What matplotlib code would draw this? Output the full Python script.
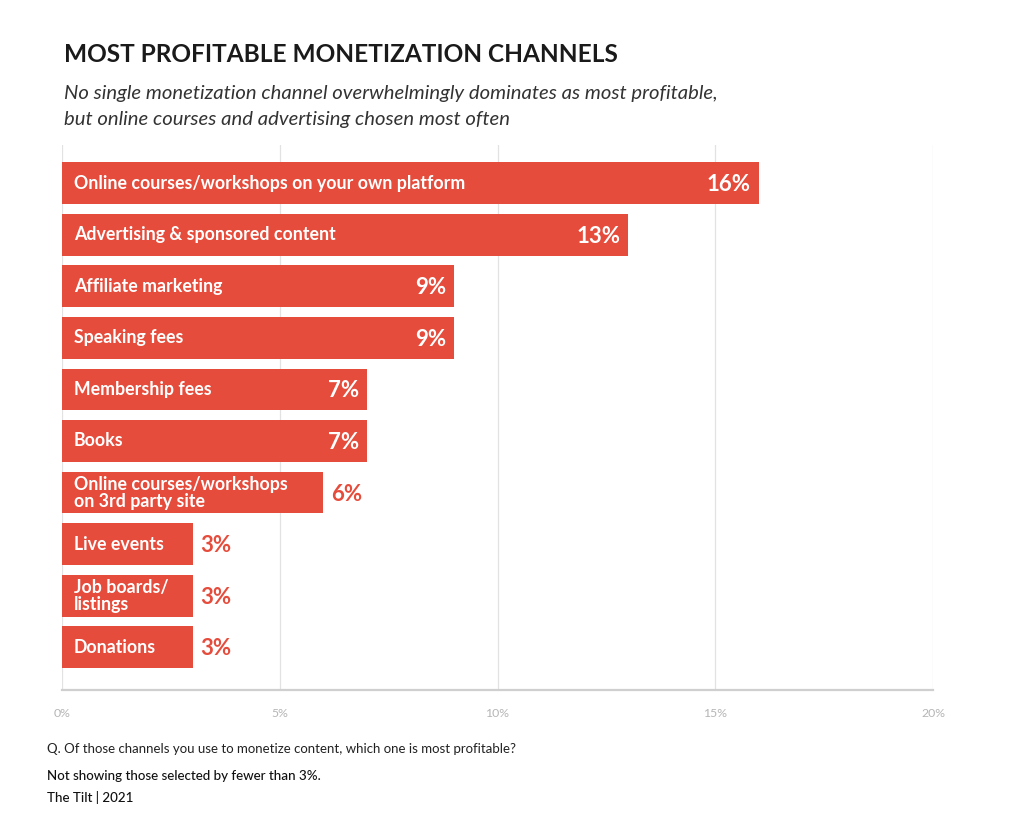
import matplotlib.pyplot as plt
import numpy as np

# data
channels = [
    'Online courses/workshops on your own platform',
    'Advertising & sponsored content',
    'Affiliate marketing',
    'Speaking fees',
    'Membership fees',
    'Books',
    'Online courses/workshops\non 3rd party site',
    'Live events',
    'Job boards/\nlistings',
    'Donations',
]
shares = [16, 13, 9, 9, 7, 7, 6, 3, 3, 3]
xticks = [0, 5, 10, 15, 20]
xtick_labels = ['0%', '5%', '10%', '15%', '20%']

bar_color = '#E64C3C'
plt.rcParams['font.family'] = ['Lato', 'DejaVu Sans']

fig = plt.figure(figsize=(10.24, 8.25), dpi=100)
ax = fig.add_axes([62 / 1024, 135 / 825, 871 / 1024, 545 / 825])

y = np.arange(len(channels))
ax.barh(y, shares, height=0.81, color=bar_color, zorder=2)
ax.set_xlim(0, 20)
ax.set_ylim(len(channels) - 1 + 0.83, -0.74)

# bar labels and values
for i, (name, v) in enumerate(zip(channels, shares)):
    ax.text(0.27, i, name, color='white', fontsize=12.8, fontweight='bold',
            va='center', ha='left', linespacing=1.0, zorder=3)
    if v >= 7:
        ax.text(v - 0.18, i + 0.03, f'{v}%', color='white', fontsize=16,
                fontweight='bold', va='center', ha='right', zorder=3)
    else:
        ax.text(v + 0.18, i + 0.03, f'{v}%', color=bar_color, fontsize=16,
                fontweight='bold', va='center', ha='left', zorder=3)

# axes styling
ax.set_xticks(xticks)
ax.set_xticklabels(xtick_labels, color='#b5b5b5', fontsize=8.8)
ax.tick_params(axis='x', length=0, pad=13)
ax.set_yticks([])
ax.grid(axis='x', color='#e2e2e2', linewidth=0.9, zorder=0)
for side in ['top', 'right', 'left']:
    ax.spines[side].set_visible(False)
ax.spines['bottom'].set_color('#cfcfcf')
ax.spines['bottom'].set_linewidth(1.6)

# titles
fig.text(64 / 1024, 1 - 55 / 825, 'MOST PROFITABLE MONETIZATION CHANNELS',
         fontsize=17.6, fontweight='bold', color='#1a1a1a', va='center')
fig.text(64 / 1024, 1 - 93 / 825,
         'No single monetization channel overwhelmingly dominates as most profitable,',
         fontsize=14.6, style='italic', color='#333333', va='center')
fig.text(64 / 1024, 1 - 119 / 825,
         'but online courses and advertising chosen most often',
         fontsize=14.6, style='italic', color='#333333', va='center')

# footer
fig.text(47 / 1024, 1 - 749 / 825,
         'Q. Of those channels you use to monetize content, which one is most profitable?',
         fontsize=9.5, color='#222222', va='center')
fig.text(47 / 1024, 1 - 776 / 825, 'Not showing those selected by fewer than 3%.',
         fontsize=9.6, color='#111111', va='center', fontweight='medium')
fig.text(47 / 1024, 1 - 797 / 825, 'The Tilt | 2021',
         fontsize=9.6, color='#111111', va='center', fontweight='medium')

plt.savefig('out.png', dpi=100, facecolor='white')
